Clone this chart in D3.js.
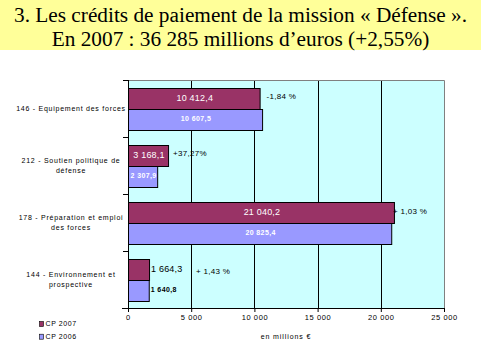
<!DOCTYPE html>
<html><head><meta charset="utf-8">
<script src="https://cdn.jsdelivr.net/npm/d3@7"></script>
<style>
body{margin:0;background:#fff;}
svg{display:block;}
.sans{font-family:"Liberation Sans";}
.serif{font-family:"Liberation Serif";}
</style></head>
<body>
<script>
const categories = ["146 - Equipement des forces","212 - Soutien politique de défense","178 - Préparation et emploi des forces","144 - Environnement et prospective"];
const categoryLines = [["146 - Equipement des forces"],["212 - Soutien politique de","défense"],["178 - Préparation et emploi","des forces"],["144 - Environnement et","prospective"]];
const series = ["CP 2007","CP 2006"];
const cp2007 = [10412.4, 3168.1, 21040.2, 1664.3];
const cp2006 = [10607.5, 2307.9, 20825.4, 1640.8];
const labels2007 = ["10 412,4","3 168,1","21 040,2","1 664,3"];
const labels2006 = ["10 607,5","2 307,9","20 825,4","1 640,8"];
const changes = ["-1,84 %","+37,27%","+ 1,03 %","+ 1,43 %"];
const xTicks = [0,5000,10000,15000,20000,25000];
const xTickLabels = ["0","5 000","10 000","15 000","20 000","25 000"];
const titleLines = ["3. Les crédits de paiement de la mission « Défense ».","En 2007 : 36 285 millions d’euros (+2,55%)"];
const axisTitle = "en millions €";

const W=481,H=359;
const colors={"CP 2007":"#993366","CP 2006":"#9999FF"};
const svg=d3.select("body").append("svg").attr("width",W).attr("height",H);

// title
svg.append("rect").attr("x",0).attr("y",0).attr("width",W).attr("height",50).attr("fill","#FFFF99");
svg.selectAll("text.title").data(titleLines).join("text").attr("class","title serif")
  .attr("x",W/2).attr("y",(d,i)=>22+i*23.5).attr("text-anchor","middle")
  .attr("font-size",21.3).attr("fill","#000").text(d=>d);

const L=128,R=444,T=80,B=308;
const x=d3.scaleLinear().domain([0,25000]).range([L,R]);
const y=d3.scaleBand().domain(categories).range([T,B]).paddingInner(0.28).paddingOuter(0.14);
const ys=d3.scaleBand().domain(series).range([0,y.bandwidth()]);

svg.append("rect").attr("x",L).attr("y",T).attr("width",R-L).attr("height",B-T).attr("fill","#CCFFFF");
svg.selectAll("line.grid").data(xTicks.slice(1,-1)).join("line").attr("class","grid")
  .attr("x1",d=>Math.round(x(d))+0.5).attr("x2",d=>Math.round(x(d))+0.5).attr("y1",T).attr("y2",B).attr("stroke","#000").attr("stroke-width",1);
svg.append("path").attr("d",`M${L},${T+0.5}H${R+0.5}V${B}`).attr("fill","none").attr("stroke","#808080").attr("stroke-width",1);

const g=svg.append("g");
categories.forEach((c,i)=>{
  const vals=[cp2007[i],cp2006[i]];
  const labs=[labels2007[i],labels2006[i]];
  series.forEach((s,k)=>{
    const y0=y(c)+ys(s);
    const w=x(vals[k])-x(0);
    g.append("rect").attr("x",x(0)+0.5).attr("y",Math.round(y0)+0.5).attr("width",w).attr("height",Math.round(ys.bandwidth()))
      .attr("fill",colors[s]).attr("stroke","#000").attr("stroke-width",1);
    const inside=w>25;
    const t=g.append("text").attr("class","sans").attr("y",y0+ys.bandwidth()/2).attr("dy","0.35em")
      .attr("font-size",k===0?9:7).attr("font-weight",k===0?"normal":"bold")
      .attr("letter-spacing",k===0?0.2:0.4)
      .attr("fill",inside?"#fff":"#000").text(labs[k]);
    if(inside) t.attr("x",x(0)+w/2+1).attr("text-anchor","middle");
    else t.attr("x",x(vals[k])+2).attr("text-anchor","start");
  });
});
const changeDx=[7,5,-1,47];
const changeDy=[-2,-2,-1,1.5];
svg.selectAll("text.chg").data(changes).join("text").attr("class","chg sans")
  .attr("x",(d,i)=>x(cp2007[i])+changeDx[i])
  .attr("y",(d,i)=>y(categories[i])+ys("CP 2007")+ys.bandwidth()/2+changeDy[i]).attr("dy","0.35em")
  .attr("font-size",8).attr("letter-spacing",0.3).attr("fill","#000").text(d=>d);

// y axis
const yAxisG=svg.append("g");
yAxisG.append("line").attr("x1",L+0.5).attr("x2",L+0.5).attr("y1",T).attr("y2",B+4).attr("stroke","#000");
const bounds=d3.range(categories.length+1).map(i=>T+i*(B-T)/categories.length);
yAxisG.selectAll("line.tk").data(bounds).join("line").attr("class","tk")
  .attr("x1",L-5).attr("x2",L).attr("y1",d=>Math.round(d)+0.5).attr("y2",d=>Math.round(d)+0.5).attr("stroke","#000");
categories.forEach((c,i)=>{
  const lines=categoryLines[i];
  const cy=y(c)+y.bandwidth()/2 - (lines.length-1)*4.5;
  const t=yAxisG.append("text").attr("class","sans").attr("text-anchor","middle").attr("font-size",7).attr("letter-spacing",0.75).attr("fill","#000");
  lines.forEach((ln,j)=>t.append("tspan").attr("x",71).attr("y",cy+j*9.5).attr("dy","0.35em").text(ln));
});

// x axis
const xAxis=d3.axisBottom(x).tickValues(xTicks).tickFormat((d,i)=>xTickLabels[i]).tickSize(4).tickSizeOuter(0);
const xg=svg.append("g").attr("transform",`translate(0,${B})`).call(xAxis);
xg.attr("font-family",null).attr("font-size",null);
xg.select(".domain").attr("stroke","#000");
xg.selectAll(".tick line").attr("stroke","#000");
xg.selectAll(".tick text").attr("class","sans").attr("y",7).attr("font-size",7.5).attr("letter-spacing",0.6).attr("fill","#000");
xg.append("line").attr("x1",L-6).attr("x2",L).attr("y1",0.5).attr("y2",0.5).attr("stroke","#000");

svg.append("text").attr("class","sans").attr("x",(L+R)/2).attr("y",337).attr("dy","0.35em").attr("text-anchor","middle")
  .attr("font-size",7).attr("letter-spacing",0.9).attr("fill","#000").text(axisTitle);

// legend
const lg=svg.append("g");
series.forEach((s,i)=>{
  const cy=324+i*12.7;
  lg.append("rect").attr("x",39.5).attr("y",cy-2.5).attr("width",4).attr("height",5).attr("fill",colors[s]).attr("stroke","#000").attr("stroke-width",0.6);
  lg.append("text").attr("class","sans").attr("x",45.5).attr("y",cy).attr("dy","0.35em").attr("font-size",7).attr("letter-spacing",0.6).attr("fill","#000").text(s);
});
</script>
</body></html>
